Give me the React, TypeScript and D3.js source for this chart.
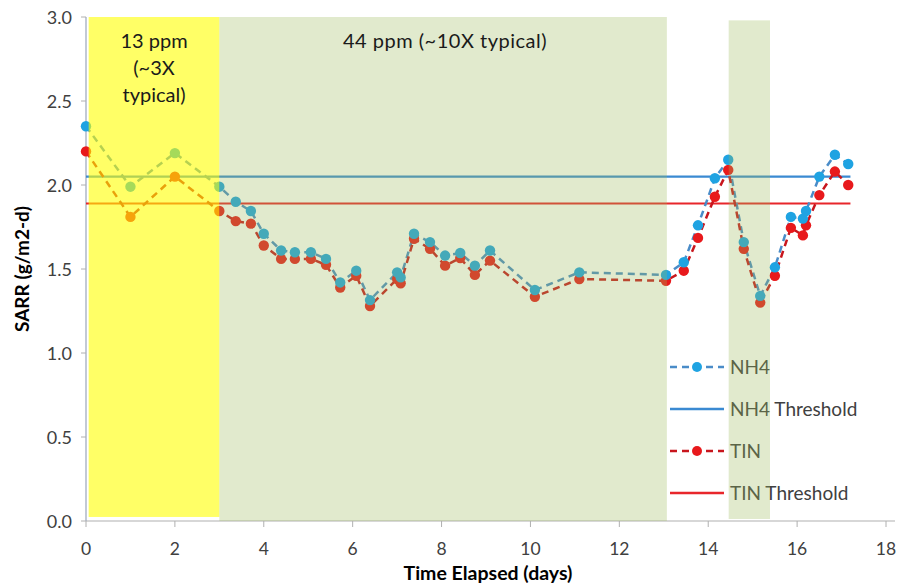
import React from "react";
import * as d3 from "d3";

const nh4X = [0, 1, 2, 3, 3.37, 3.71, 4.0, 4.39, 4.7, 5.06, 5.4, 5.72, 6.08, 6.39, 7.0, 7.08, 7.38, 7.74, 8.08, 8.42, 8.75, 9.09, 10.1, 11.1, 13.05, 13.45, 13.77, 14.15, 14.45, 14.8, 15.17, 15.5, 15.86, 16.13, 16.2, 16.5, 16.85, 17.15];
const nh4Y = [2.35, 1.99, 2.19, 1.99, 1.9, 1.845, 1.71, 1.61, 1.6, 1.6, 1.56, 1.42, 1.49, 1.315, 1.48, 1.45, 1.71, 1.66, 1.58, 1.595, 1.52, 1.61, 1.375, 1.48, 1.465, 1.54, 1.76, 2.04, 2.15, 1.66, 1.34, 1.51, 1.81, 1.8, 1.845, 2.05, 2.18, 2.125];
const tinY = [2.2, 1.81, 2.05, 1.845, 1.785, 1.77, 1.64, 1.56, 1.56, 1.56, 1.525, 1.39, 1.46, 1.28, 1.44, 1.415, 1.68, 1.62, 1.52, 1.565, 1.465, 1.55, 1.335, 1.44, 1.43, 1.49, 1.685, 1.93, 2.09, 1.62, 1.3, 1.46, 1.745, 1.7, 1.76, 1.94, 2.08, 2.0];
const nh4Threshold = 2.05;
const tinThreshold = 1.89;
const thresholdRange = [0, 17.2];
const xTicks = [0, 2, 4, 6, 8, 10, 12, 14, 16, 18];
const yTicks = [0, 0.5, 1.0, 1.5, 2.0, 2.5, 3.0];
const bands = [
  { x0: 0.06, x1: 3, y0: 3, y1: 0.024, color: "#FFFF00", alpha: 0.6 },
  { x0: 3, x1: 13.07, y0: 3, y1: 0, color: "#9BBB59", alpha: 0.3 },
  { x0: 14.46, x1: 15.39, y0: 2.98, y1: 0.012, color: "#9BBB59", alpha: 0.3 },
];
const legendItems = ["NH4", "NH4 Threshold", "TIN", "TIN Threshold"];

const W = 907, H = 586;
const FONT = "Lato, 'Open Sans', sans-serif";

export default function App() {
  const x = d3.scaleLinear().domain([0, 18]).range([86, 886]);
  const y = d3.scaleLinear().domain([0, 3]).range([521, 17]);
  const nh4 = nh4X.map((d, i) => [d, nh4Y[i]] as [number, number]);
  const tin = nh4X.map((d, i) => [d, tinY[i]] as [number, number]);
  const line = d3.line<[number, number]>().x(d => x(d[0])).y(d => y(d[1]));

  const nh4Line = "#4a8cc8";
  const nh4Pt = "#1fa3e2";
  const tinLine = "#c8161d";
  const tinPt = "#e8191c";
  const nh4Th = "#3a8ad2";
  const tinTh = "#e8262b";

  const legY = [367, 409, 451, 493];

  return (
    <svg width={W} height={H} style={{ position: "absolute", left: 0, top: 0, background: "#fff" }}>
      {/* axes */}
      <line x1={x(0)} x2={895} y1={y(0)} y2={y(0)} stroke="#b0b0b0" strokeWidth={1.2} />
      <line x1={x(0)} x2={x(0)} y1={y(3)} y2={y(0)} stroke="#9aa6ba" strokeWidth={1.2} />
      {xTicks.map(t => (
        <g key={"xt" + t}>
          <line x1={x(t)} x2={x(t)} y1={y(0)} y2={y(0) + 6} stroke="#b0b0b0" />
          <text x={x(t)} y={555} textAnchor="middle" fontFamily={FONT} fontSize={17.5} fill="#404040">{t}</text>
        </g>
      ))}
      {yTicks.map(t => (
        <g key={"yt" + t}>
          <line x1={x(0) - 5} x2={x(0)} y1={y(t)} y2={y(t)} stroke="#b0b0b0" />
          <text x={72} y={y(t) + 7} textAnchor="end" fontFamily={FONT} fontSize={18} fill="#404040">{t.toFixed(1)}</text>
        </g>
      ))}
      <text x={488} y={580} textAnchor="middle" fontFamily={FONT} fontSize={19.5} fontWeight="bold" fill="#000">Time Elapsed (days)</text>
      <text transform={`translate(29,269) rotate(-90)`} textAnchor="middle" fontFamily={FONT} fontSize={19} fontWeight="bold" fill="#000">SARR (g/m2-d)</text>

      {/* thresholds */}
      <line x1={x(thresholdRange[0])} x2={x(thresholdRange[1])} y1={y(nh4Threshold)} y2={y(nh4Threshold)} stroke={nh4Th} strokeWidth={2.2} />
      <line x1={x(thresholdRange[0])} x2={x(thresholdRange[1])} y1={y(tinThreshold)} y2={y(tinThreshold)} stroke={tinTh} strokeWidth={2.2} />

      {/* series */}
      <path d={line(nh4) || ""} fill="none" stroke={nh4Line} strokeWidth={2.5} strokeDasharray="7,5" />
      <path d={line(tin) || ""} fill="none" stroke={tinLine} strokeWidth={2.5} strokeDasharray="7,5" />
      {tin.map((d, i) => <circle key={"t" + i} cx={x(d[0])} cy={y(d[1])} r={5.2} fill={tinPt} />)}
      {nh4.map((d, i) => <circle key={"n" + i} cx={x(d[0])} cy={y(d[1])} r={5.2} fill={nh4Pt} />)}

      {/* legend */}
      {legendItems.map((name, i) => {
        const ly = legY[i];
        const isTh = name.includes("Threshold");
        const isNH = name.startsWith("NH4");
        const stroke = isTh ? (isNH ? nh4Th : tinTh) : (isNH ? nh4Line : tinLine);
        return (
          <g key={name}>
            <line x1={670} x2={724} y1={ly} y2={ly} stroke={stroke} strokeWidth={2.5} strokeDasharray={isTh ? undefined : "7,5"} />
            {!isTh && <circle cx={697} cy={ly} r={5} fill={isNH ? nh4Pt : tinPt} />}
            <text x={730} y={ly + 7} fontFamily={FONT} fontSize={19} fill="#404040">{name}</text>
          </g>
        );
      })}

      {/* translucent bands on top */}
      {bands.map((b, i) => (
        <rect key={"b" + i} x={x(b.x0)} y={y(b.y0)} width={x(b.x1) - x(b.x0)} height={y(b.y1) - y(b.y0)} fill={b.color} fillOpacity={b.alpha} />
      ))}

      {/* band annotations */}
      <text textAnchor="middle" fontFamily={FONT} fontSize={20} fill="#1a1a1a">
        <tspan x={154} y={48}>13 ppm</tspan>
        <tspan x={154} y={75}>(~3X</tspan>
        <tspan x={154} y={102}>typical)</tspan>
      </text>
      <text x={445} y={48} textAnchor="middle" fontFamily={FONT} fontSize={20} letterSpacing={0.5} fill="#1a1a1a">44 ppm (~10X typical)</text>
    </svg>
  );
}
